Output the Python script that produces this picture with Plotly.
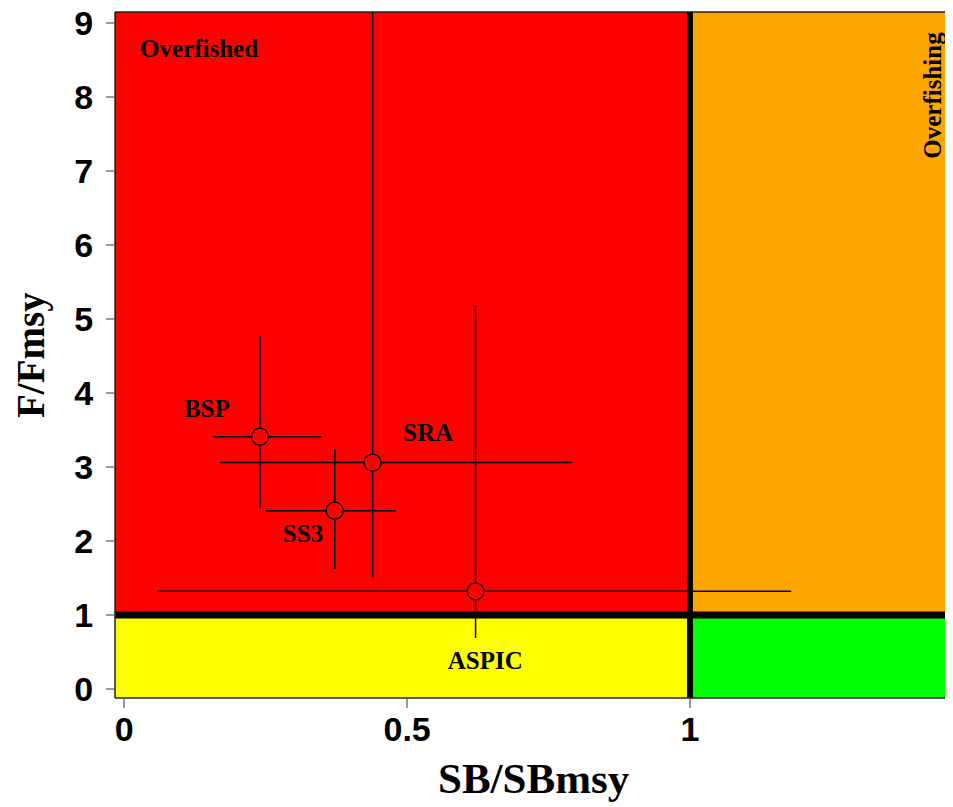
import plotly.graph_objects as go

# Data
models = ["BSP", "SS3", "SRA", "ASPIC"]
sb_ratio = [0.240, 0.372, 0.439, 0.621]
sb_low = [0.157, 0.249, 0.169, 0.058]
sb_high = [0.349, 0.480, 0.792, 1.179]
f_ratio = [3.41, 2.41, 3.06, 1.32]
f_low = [2.45, 1.62, 1.51, 0.69]
f_high = [4.77, 3.24, 9.60, 5.19]

# label positions (data coords) for model names
label_x = [0.146, 0.316, 0.537, 0.638]
label_y = [3.76, 2.07, 3.43, 0.35]

x_ticks = [0, 0.5, 1, 1.5]
x_ticktext = ["0", "0.5", "1", "1.5"]
y_ticks = list(range(0, 10))

XMIN, XMAX = -0.0164, 1.465
YMIN, YMAX = -0.122, 9.15
REF = 1.0

SERIF = "Liberation Serif"
SANS = "Liberation Sans"

fig = go.Figure()

zones = [
    (XMIN, REF, REF, YMAX, "#FF0000"),
    (REF, XMAX, REF, YMAX, "#FFA500"),
    (XMIN, REF, YMIN, REF, "#FFFF00"),
    (REF, XMAX, YMIN, REF, "#00FF00"),
]
for x0, x1, y0, y1, c in zones:
    fig.add_shape(type="rect", x0=x0, x1=x1, y0=y0, y1=y1, xref="x", yref="y",
                  fillcolor=c, line=dict(width=0), layer="below")

fig.add_shape(type="line", x0=REF, x1=REF, y0=YMIN, y1=YMAX, xref="x", yref="y",
              line=dict(color="black", width=6))
fig.add_shape(type="line", x0=XMIN, x1=XMAX, y0=REF, y1=REF, xref="x", yref="y",
              line=dict(color="black", width=7))

fig.add_trace(go.Scatter(
    x=sb_ratio, y=f_ratio, mode="markers",
    marker=dict(size=17, color="#FF0000", line=dict(color="black", width=1.3)),
    error_x=dict(type="data", symmetric=False,
                 array=[h - v for h, v in zip(sb_high, sb_ratio)],
                 arrayminus=[v - l for l, v in zip(sb_low, sb_ratio)],
                 color="black", thickness=1.5, width=0),
    error_y=dict(type="data", symmetric=False,
                 array=[h - v for h, v in zip(f_high, f_ratio)],
                 arrayminus=[v - l for l, v in zip(f_low, f_ratio)],
                 color="black", thickness=1.5, width=0),
    showlegend=False, cliponaxis=True,
))

fig.add_trace(go.Scatter(
    x=label_x, y=label_y, mode="text", text=["<b>%s</b>" % m for m in models],
    textfont=dict(family=SERIF, size=25, color="black"),
    showlegend=False,
))

fig.add_annotation(x=0.0247, y=8.66, xref="x", yref="y", text="<b>Overfished</b>",
                   showarrow=False, xanchor="left", yanchor="middle",
                   font=dict(family=SERIF, size=25, color="black"))
fig.add_annotation(x=0.976, y=8.03, xref="paper", yref="y", text="<b>Overfishing</b>",
                   showarrow=False, textangle=-90, xanchor="center", yanchor="middle",
                   font=dict(family=SERIF, size=25, color="black"))

# axis titles
fig.add_annotation(x=0.5, y=0, xref="paper", yref="paper", yshift=-80,
                   text="<b>SB/SBmsy</b>", showarrow=False, yanchor="middle",
                   font=dict(family=SERIF, size=43, color="black"))
fig.add_annotation(x=0, y=0.5, xref="paper", yref="paper", xshift=-84,
                   text="<b>F/Fmsy</b>", showarrow=False, textangle=-90,
                   xanchor="center", yanchor="middle",
                   font=dict(family=SERIF, size=39, color="black"))

# box (left, top, bottom)
for x0, y0, x1, y1 in [(0, 0, 0, 1), (0, 1, 1, 1), (0, 0, 1, 0)]:
    fig.add_shape(type="line", x0=x0, x1=x1, y0=y0, y1=y1, xref="paper", yref="paper",
                  line=dict(color="#222222", width=1.5))

fig.update_layout(
    width=945, height=799,
    margin=dict(l=107, r=0, t=4, b=109),
    paper_bgcolor="white", plot_bgcolor="white",
    xaxis=dict(range=[XMIN, XMAX], tickvals=x_ticks, ticktext=x_ticktext,
               showgrid=False, zeroline=False, showline=False, automargin=False,
               ticks="outside", ticklen=9, tickcolor="#999999", tickwidth=1.5,
               ticklabelstandoff=-8, ticklabeloverflow="allow",
               tickfont=dict(family=SANS, size=34, color="black", weight="bold")),
    yaxis=dict(range=[YMIN, YMAX], tickvals=y_ticks,
               showgrid=False, zeroline=False, showline=False, automargin=False,
               ticks="outside", ticklen=8, tickcolor="#999999", tickwidth=1.5,
               ticklabelstandoff=6, ticklabeloverflow="allow",
               tickfont=dict(family=SANS, size=34, color="black", weight="bold")),
)

fig.write_html("out.html")
